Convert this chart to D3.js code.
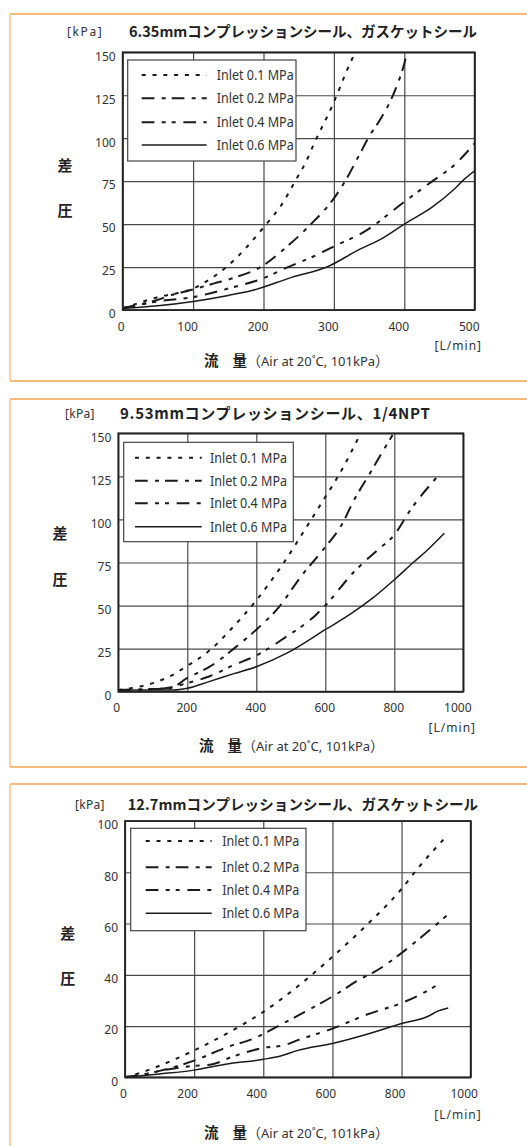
<!DOCTYPE html>
<html>
<head>
<meta charset="utf-8">
<script src="https://cdn.jsdelivr.net/npm/d3@7"></script>
<style>
  body { margin: 0; background: #fff; }
  svg { display: block; }
  text { font-family: "Noto Sans", sans-serif; fill: #333; }
</style>
</head>
<body>
<div id="chart"></div>
<script>
// legend / series
const seriesNames = ["Inlet 0.1 MPa", "Inlet 0.2 MPa", "Inlet 0.4 MPa", "Inlet 0.6 MPa"];
const dashes = ["4,6.8", "12.7,7.3,4,6", "12.7,7.3,4,6,4,7.7", null];

// panel 1 : 6.35mm  [flow L/min, dP kPa]
const p1Title = "6.35mmコンプレッションシール、ガスケットシール";
const p1XTicks = [0, 100, 200, 300, 400, 500];
const p1YTicks = [0, 25, 50, 75, 100, 125, 150];
const p1In01 = [[0,1],[50,7.5],[100,12.5],[150,26],[200,48],[230,64],[245,75],[260,86],[272,97],[300,121],[318,139],[328,148]];
const p1In02 = [[0,1],[50,6],[72,9],[100,12],[130,15.5],[160,19],[200,26],[225,34],[265,49],[300,65],[316,75],[337,91],[350,101],[366,111],[387,128],[401,145],[404,150]];
const p1In04 = [[0,1],[50,5],[100,7.5],[150,12.5],[200,18.5],[235,25],[270,31],[300,37],[345,46],[400,63],[440,75],[470,84],[500,97]];
const p1In06 = [[0,1],[50,2.5],[100,5],[150,8.5],[185,11.5],[240,19],[290,25],[335,35],[370,42],[400,50],[440,60],[470,70],[485,76],[500,81]];

// panel 2 : 9.53mm
const p2Title = "9.53mmコンプレッションシール、1/4NPT";
const p2XTicks = [0, 200, 400, 600, 800, 1000];
const p2YTicks = [0, 25, 50, 75, 100, 125, 150];
const p2In01 = [[0,1],[50,2.5],[100,5],[150,9],[200,15],[265,24],[330,37],[400,53],[480,75],[550,97],[600,113],[640,126],[700,149]];
const p2In02 = [[0,1],[100,1.5],[150,2],[200,8],[265,14.5],[335,25],[400,36],[465,49],[530,67],[600,84],[648,97],[680,110],[730,127],[765,139],[795,149]];
const p2In04 = [[0,1],[100,1.5],[150,2.5],[200,5],[265,9],[335,15.5],[400,21],[480,31],[575,45],[600,50],[685,70],[750,82],[800,91],[845,105],[930,126]];
const p2In06 = [[0,1],[100,1],[160,1],[200,2],[265,6],[335,10.5],[400,14.5],[490,22.5],[600,36],[680,46],[735,54],[800,65],[855,75],[900,83],[945,92]];

// panel 3 : 12.7mm
const p3Title = "12.7mmコンプレッションシール、ガスケットシール";
const p3XTicks = [0, 200, 400, 600, 800, 1000];
const p3YTicks = [0, 20, 40, 60, 80, 100];
const p3In01 = [[0,0],[50,2],[100,4.5],[200,10.5],[300,17.5],[400,25.5],[500,35.5],[600,47],[700,59.5],[800,73.5],[850,82],[930,94]];
const p3In02 = [[0,0],[50,1],[100,2.5],[200,6.5],[300,12],[370,15],[450,20.5],[520,25.5],[600,31.5],[690,39],[720,41],[800,48.5],[860,55],[930,63]];
const p3In04 = [[0,0],[50,1],[100,2.5],[200,4.5],[250,5],[310,8],[400,11.5],[460,12.5],[500,14.5],[600,19],[700,24.5],[800,29],[850,32],[915,37]];
const p3In06 = [[0,0],[100,1.3],[200,2.8],[300,5.3],[400,7],[450,8.3],[500,10.5],[600,13.2],[700,16.8],[800,21],[880,24],[900,25.5],[935,27]];

const W = 527, H = 1146;
const cjk = '"Noto Sans CJK JP", sans-serif';

const panels = [
  { title: p1Title, titleSize: 14.5, titleSpacing: 0, xMax: 500, yMax: 150,
    xTicks: p1XTicks, yTicks: p1YTicks, series: [p1In01, p1In02, p1In04, p1In06],
    frame: [14, 381], plot: [122.7, 474.7, 52.3, 310],
    legend: [127.7, 60, 296, 161], rows: [75, 98.3, 122.3, 145], sample: [141.7, 206.7], textX: 216.7,
    kpa: [67, 32], kpaSpacing: 1.6, titleX: 129, sa: [65, 165, 210],
    lmin: [482, 346], axisTitle: [204, 366], xShift: -6 },
  { title: p2Title, titleSize: 15, titleSpacing: 0.7, xMax: 1000, yMax: 150,
    xTicks: p2XTicks, yTicks: p2YTicks, series: [p2In01, p2In02, p2In04, p2In06],
    frame: [399, 767], plot: [118.3, 463.3, 433.3, 691.7],
    legend: [123.7, 442.3, 293.3, 541.7], rows: [457.7, 480.7, 503.3, 526.7], sample: [135, 201.7], textX: 210,
    kpa: [65, 413.3], kpaSpacing: 0.3, titleX: 120, sa: [60, 533, 579],
    lmin: [476, 728], axisTitle: [199, 751], xShift: -1 },
  { title: p3Title, titleSize: 14.5, titleSpacing: 0.1, xMax: 1000, yMax: 100,
    xTicks: p3XTicks, yTicks: p3YTicks, series: [p3In01, p3In02, p3In04, p3In06],
    frame: [784, 1170], plot: [125, 470.7, 821, 1077.3],
    legend: [130.7, 828.3, 306, 930.7], rows: [841, 867.3, 890, 913.3], sample: [145.7, 211.7], textX: 222.3,
    kpa: [75, 804.3], kpaSpacing: 0.3, titleX: 127.7, sa: [67.7, 933.3, 978.3],
    lmin: [481.7, 1115], axisTitle: [204, 1138], xShift: -7 }
];

const svg = d3.select("#chart").append("svg")
  .attr("width", W)
  .attr("height", H);

function drawPanel(p, i) {
  const g = svg.append("g");

  // orange frame
  const [ft, fb] = p.frame;
  g.append("line").attr("x1", 10).attr("x2", W + 5).attr("y1", ft).attr("y2", ft)
    .attr("stroke", "#f4a24c").attr("stroke-width", 1.5);
  g.append("line").attr("x1", 10).attr("x2", W + 5).attr("y1", fb).attr("y2", fb)
    .attr("stroke", "#f4a24c").attr("stroke-width", 1.5);
  g.append("line").attr("x1", 10).attr("x2", 10).attr("y1", ft).attr("y2", fb)
    .attr("stroke", "#f8c47f").attr("stroke-width", 1.5);

  const [l, r, t, b] = p.plot;
  const x = d3.scaleLinear().domain([0, p.xMax]).range([l, r]);
  const y = d3.scaleLinear().domain([0, p.yMax]).range([b, t]);

  // grid
  g.append("g")
    .attr("transform", `translate(0,${b})`)
    .call(d3.axisBottom(x).tickValues(p.xTicks).tickSize(-(b - t)).tickFormat(""))
    .call((a) => a.select(".domain").remove())
    .selectAll("line").attr("stroke", "#4a4a4a").attr("stroke-width", 1.2);
  g.append("g")
    .attr("transform", `translate(${l},0)`)
    .call(d3.axisLeft(y).tickValues(p.yTicks).tickSize(-(r - l)).tickFormat(""))
    .call((a) => a.select(".domain").remove())
    .selectAll("line").attr("stroke", "#4a4a4a").attr("stroke-width", 1.2);

  // tick labels
  const xa = g.append("g")
    .attr("transform", `translate(0,${b})`)
    .call(d3.axisBottom(x).tickValues(p.xTicks).tickSize(0).tickPadding(12).tickFormat(d3.format("d")));
  xa.select(".domain").remove();
  xa.selectAll("text")
    .attr("x", (d) => (d === 0 ? -2 : (d === p.xMax && i === 1 ? -6 : p.xShift)))
    .style("font-size", "12px").style("font-family", '"Noto Sans", sans-serif').style("fill", "#333");

  const ya = g.append("g")
    .attr("transform", `translate(${l},0)`)
    .call(d3.axisLeft(y).tickValues(p.yTicks).tickSize(0).tickPadding(7).tickFormat(d3.format("d")));
  ya.select(".domain").remove();
  ya.selectAll("text")
    .attr("y", 4)
    .style("font-size", "12px").style("font-family", '"Noto Sans", sans-serif').style("fill", "#333");

  // curves
  const clipId = "plotclip" + i;
  g.append("clipPath").attr("id", clipId)
    .append("rect").attr("x", l).attr("y", t).attr("width", r - l).attr("height", b - t);

  const line = d3.line()
    .x((d) => x(d[0]))
    .y((d) => y(d[1]))
    .curve(d3.curveMonotoneX);

  p.series.forEach((s, k) => {
    g.append("path")
      .datum(s)
      .attr("d", line)
      .attr("fill", "none")
      .attr("stroke", "#1a1a1a")
      .attr("stroke-width", k === 3 ? 1.5 : 2)
      .attr("stroke-dasharray", dashes[k])
      .attr("clip-path", `url(#${clipId})`);
  });

  // plot border
  g.append("rect")
    .attr("x", l).attr("y", t).attr("width", r - l).attr("height", b - t)
    .attr("fill", "none").attr("stroke", "#222").attr("stroke-width", 1.8);

  // legend
  const [lx0, ly0, lx1, ly1] = p.legend;
  g.append("rect")
    .attr("x", lx0).attr("y", ly0).attr("width", lx1 - lx0).attr("height", ly1 - ly0)
    .attr("fill", "#fff").attr("stroke", "#444").attr("stroke-width", 1.2);
  seriesNames.forEach((name, k) => {
    const ry = p.rows[k];
    g.append("line")
      .attr("x1", p.sample[0]).attr("x2", p.sample[1]).attr("y1", ry).attr("y2", ry)
      .attr("stroke", "#1a1a1a")
      .attr("stroke-width", k === 3 ? 1.6 : 2)
      .attr("stroke-dasharray", dashes[k]);
    g.append("text")
      .attr("x", p.textX).attr("y", ry + 5)
      .attr("textLength", 77)
      .attr("lengthAdjust", "spacingAndGlyphs")
      .style("font-size", "14px")
      .text(name);
  });

  // titles
  g.append("text")
    .attr("x", p.kpa[0]).attr("y", p.kpa[1] + 4.3)
    .style("font-size", "12px")
    .style("letter-spacing", p.kpaSpacing + "px")
    .text("[kPa]");
  g.append("text")
    .attr("x", p.titleX).attr("y", p.kpa[1] + 5.3)
    .style("font-family", cjk)
    .style("font-weight", "bold")
    .style("font-size", p.titleSize + "px")
    .style("letter-spacing", p.titleSpacing + "px")
    .style("fill", "#222")
    .text(p.title);

  // y axis label (vertical pair)
  ["差", "圧"].forEach((c, k) => {
    g.append("text")
      .attr("x", p.sa[0]).attr("y", p.sa[k + 1] + 5.5)
      .attr("text-anchor", "middle")
      .style("font-family", cjk)
      .style("font-weight", "bold")
      .style("font-size", "15px")
      .style("fill", "#222")
      .text(c);
  });

  // x unit
  g.append("text")
    .attr("x", p.lmin[0]).attr("y", p.lmin[1] + 4.3)
    .attr("text-anchor", "end")
    .style("font-size", "12px")
    .style("letter-spacing", "1px")
    .text("[L/min]");

  // x axis title
  const at = g.append("text")
    .attr("x", p.axisTitle[0]).attr("y", p.axisTitle[1]);
  at.append("tspan").style("font-family", cjk).style("font-weight", "bold")
    .style("font-size", "14.5px").style("fill", "#222").text("流");
  at.append("tspan").attr("dx", 14).style("font-family", cjk).style("font-weight", "bold")
    .style("font-size", "14.5px").style("fill", "#222").text("量");
  at.append("tspan").style("font-family", cjk).style("font-size", "14px").text("（");
  at.append("tspan").style("font-size", "13px").text("Air at 20˚C, 101kPa");
  at.append("tspan").style("font-family", cjk).style("font-size", "14px").text("）");
}

panels.forEach(drawPanel);
</script>
</body>
</html>
